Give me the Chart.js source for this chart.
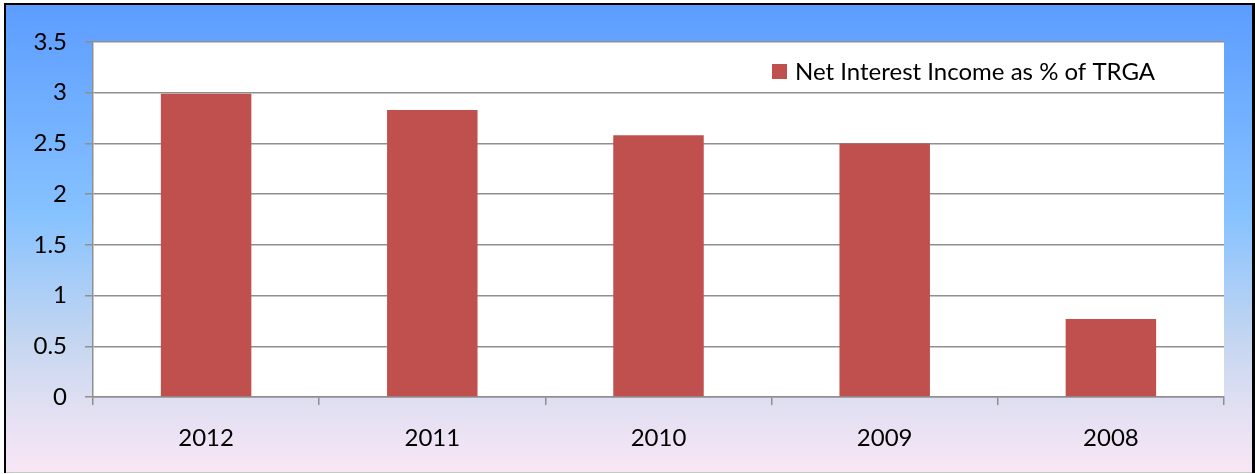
<!DOCTYPE html>
<html>
<head>
<meta charset="utf-8">
<script src="https://cdn.jsdelivr.net/npm/chart.js@4/dist/chart.umd.min.js"></script>
<style>
  html, body { margin: 0; padding: 0; background: #ffffff; }
  #wrap { width: 1255px; height: 474px; position: relative; }
</style>
</head>
<body>
<div id="wrap"><canvas id="c" width="1255" height="474"></canvas></div>
<script>
// Net interest income as a share of TRGA, by year
const years = ['2012', '2011', '2010', '2009', '2008'];
const netInterestPct = [2.99, 2.83, 2.58, 2.50, 0.77];
const seriesLabel = 'Net Interest Income as % of TRGA';
const yTicks = { min: 0, max: 3.5, step: 0.5 };

const FONT = 'Lato, "Open Sans", sans-serif';
const FONT_SIZE = 24;
const BAR_COLOR = '#C0504D';
const GRID_COLOR = '#8f8f8f';

// Framed gradient background and white plot area
const backdrop = {
  id: 'backdrop',
  beforeDraw(chart) {
    const { ctx, width, height, chartArea: a } = chart;
    ctx.save();
    ctx.fillStyle = '#ffffff';
    ctx.fillRect(0, 0, width, height);
    const g = ctx.createLinearGradient(0, 3, 0, 472);
    g.addColorStop(0.0, '#5c9cff');
    g.addColorStop(0.45, '#86c2ff');
    g.addColorStop(0.72, '#c4d6f0');
    g.addColorStop(0.85, '#dfdff2');
    g.addColorStop(1.0, '#f9e6f5');
    ctx.fillStyle = g;
    ctx.fillRect(5, 3, 1248, 470);
    // frame
    ctx.fillStyle = '#000000';
    ctx.fillRect(4, 3, 2, 470);
    ctx.fillRect(4, 3, 1251, 2);
    ctx.fillRect(1252, 3, 3, 470);
    ctx.fillStyle = '#c8c8c8';
    ctx.fillRect(6, 472, 1246, 1);
    // plot area
    ctx.fillStyle = '#ffffff';
    ctx.fillRect(a.left, a.top, a.right - a.left, a.bottom - a.top);
    ctx.restore();
  }
};

// Legend drawn inside the plot area, upper right
const innerLegend = {
  id: 'innerLegend',
  afterDraw(chart) {
    const { ctx } = chart;
    const ds = chart.data.datasets[0];
    ctx.save();
    ctx.fillStyle = ds.backgroundColor;
    ctx.fillRect(772, 64, 15, 15);
    ctx.font = FONT_SIZE + 'px ' + FONT;
    ctx.fillStyle = '#000000';
    ctx.textBaseline = 'alphabetic';
    ctx.textAlign = 'left';
    ctx.fillText(ds.label, 795, 80);
    ctx.restore();
  }
};

new Chart(document.getElementById('c'), {
  type: 'bar',
  data: {
    labels: years,
    datasets: [{
      label: seriesLabel,
      data: netInterestPct,
      backgroundColor: BAR_COLOR,
      borderWidth: 0,
      barPercentage: 0.4,
      categoryPercentage: 1.0
    }]
  },
  options: {
    responsive: false,
    animation: false,
    devicePixelRatio: 1,
    layout: { padding: { left: 0, top: 42, right: 31, bottom: 0 } },
    plugins: {
      legend: { display: false },
      tooltip: { enabled: false }
    },
    scales: {
      x: {
        offset: true,
        grid: {
          display: true,
          drawOnChartArea: false,
          drawTicks: true,
          tickLength: 8,
          color: GRID_COLOR,
          lineWidth: 1.5,
          offset: true
        },
        border: { display: true, color: GRID_COLOR, width: 1.5 },
        ticks: {
          color: '#000000',
          font: { family: FONT, size: FONT_SIZE },
          padding: 19,
          maxRotation: 0
        },
        afterFit(scale) { scale.height = 77; }
      },
      y: {
        min: yTicks.min,
        max: yTicks.max,
        grid: {
          color: GRID_COLOR,
          lineWidth: 1.5,
          tickLength: 8,
          drawTicks: true
        },
        border: { display: true, color: GRID_COLOR, width: 1.5 },
        ticks: {
          stepSize: yTicks.step,
          color: '#000000',
          font: { family: FONT, size: FONT_SIZE },
          padding: 18,
          callback: (v) => String(Number(v))
        },
        afterFit(scale) { scale.width = 93; }
      }
    }
  },
  plugins: [backdrop, innerLegend]
});
</script>
</body>
</html>
